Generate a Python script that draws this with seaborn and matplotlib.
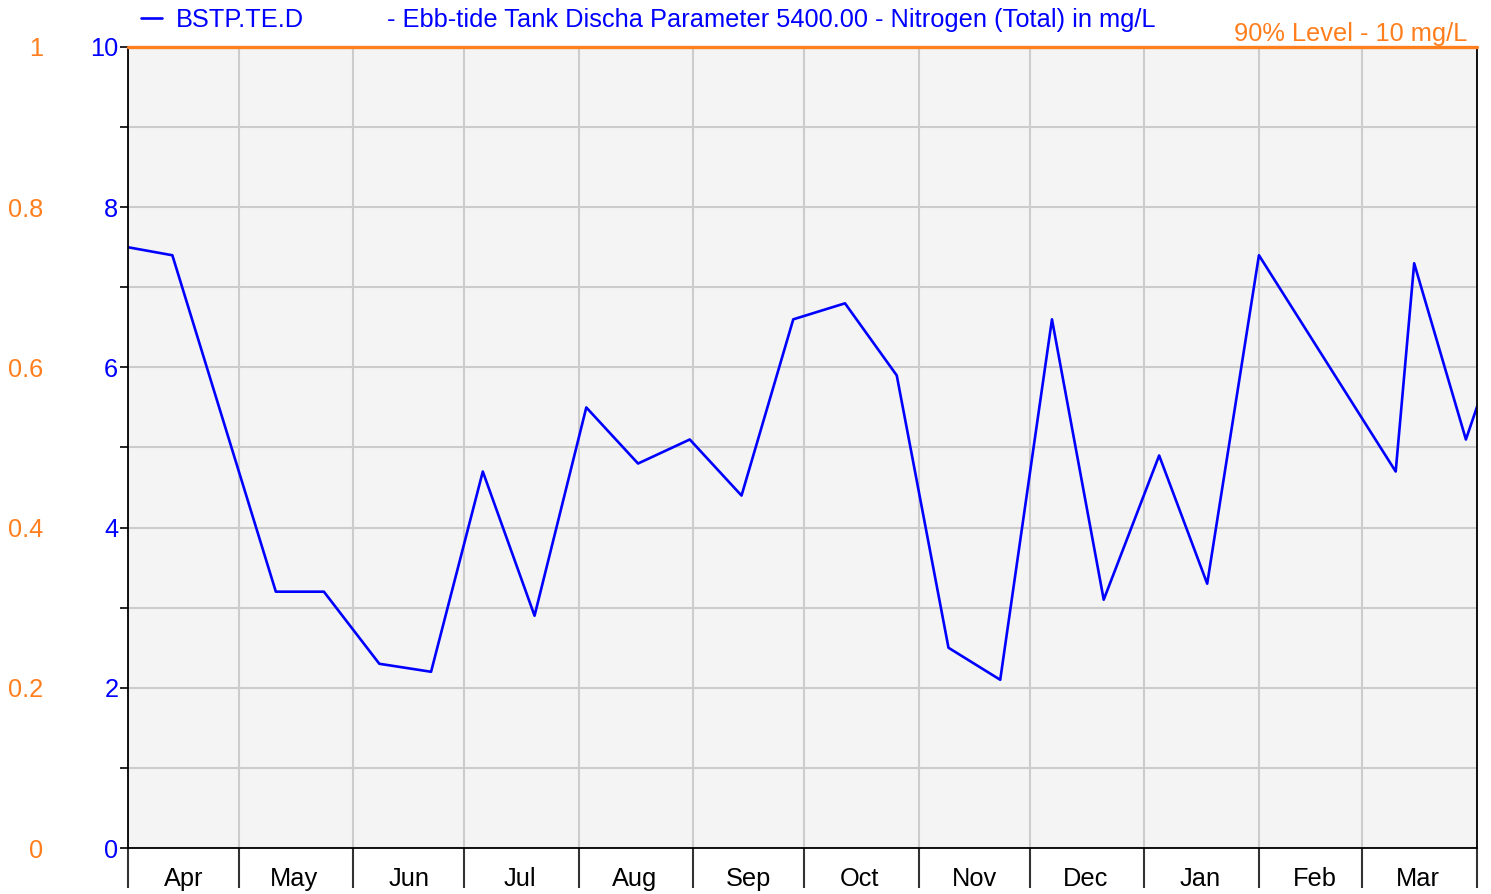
import numpy as np
import pandas as pd
import matplotlib
matplotlib.use('Agg')
import matplotlib.pyplot as plt
import matplotlib.dates as mdates
from matplotlib.ticker import FixedLocator, FuncFormatter
import seaborn as sns

# sample dates and Nitrogen (Total) values in mg/L
dates = ['2018-04-01', '2018-04-13', '2018-05-11', '2018-05-24', '2018-06-08',
         '2018-06-22', '2018-07-06', '2018-07-20', '2018-08-03', '2018-08-17',
         '2018-08-31', '2018-09-14', '2018-09-28', '2018-10-12', '2018-10-26',
         '2018-11-09', '2018-11-23', '2018-12-07', '2018-12-21', '2019-01-05',
         '2019-01-18', '2019-02-01', '2019-03-10', '2019-03-15', '2019-03-29',
         '2019-04-12']
values = [7.5, 7.4, 3.2, 3.2, 2.3, 2.2, 4.7, 2.9, 5.5, 4.8,
          5.1, 4.4, 6.6, 6.8, 5.9, 2.5, 2.1, 6.6, 3.1, 4.9,
          3.3, 7.4, 4.7, 7.3, 5.1, 7.0]
blue_ticks = [0, 2, 4, 6, 8, 10]
orange_ticks = [0, 0.2, 0.4, 0.6, 0.8, 1]
level_90 = 10
series_name = 'BSTP.TE.D'
description = '- Ebb-tide Tank Discha Parameter 5400.00 - Nitrogen (Total) in mg/L'
level_label = '90% Level - 10 mg/L'

BLUE = '#0000ff'
ORANGE = '#ff7f1e'
FS = 18.3

df = pd.DataFrame({'date': pd.to_datetime(dates), 'value': values})

sns.set_style('white')
plt.rcParams['font.family'] = ['Liberation Sans', 'DejaVu Sans']

fig = plt.figure(figsize=(14.91, 8.94), dpi=100)
ax = fig.add_axes([128 / 1491, 1 - 848 / 894, (1477 - 128) / 1491, (848 - 47) / 894])
ax.set_facecolor('#f4f4f4')

sns.lineplot(data=df, x='date', y='value', ax=ax, color=BLUE, linewidth=1.9,
             label=series_name)

ax.set_xlim(pd.Timestamp('2018-04-01'), pd.Timestamp('2019-04-01'))
ax.set_ylim(0, 10)
ax.set_xlabel('')
ax.set_ylabel('')

# y axis: labelled every 2, gridlines every 1
ax.yaxis.set_major_locator(FixedLocator(blue_ticks))
ax.yaxis.set_minor_locator(FixedLocator([1, 3, 5, 7, 9]))
ax.yaxis.set_major_formatter(FuncFormatter(lambda v, p: '%g' % v))
ax.tick_params(axis='y', which='both', direction='out', length=6, width=1.2,
               color='black', left=True, pad=1, labelsize=FS, labelcolor=BLUE)
ax.grid(True, which='both', axis='y', color='#cccccc', linewidth=1.5)

# x axis: month boundaries + labels centred on months
ax.xaxis.set_major_locator(mdates.MonthLocator())
ax.xaxis.set_major_formatter(plt.NullFormatter())
ax.xaxis.set_minor_locator(mdates.MonthLocator(bymonthday=16))
ax.xaxis.set_minor_formatter(mdates.DateFormatter('%b'))
ax.tick_params(axis='x', which='major', direction='out', length=29, width=1.5,
               color='#333333', bottom=True)
ax.tick_params(axis='x', which='minor', length=0, pad=13.5, labelsize=FS,
               labelcolor='black')
ax.grid(True, which='major', axis='x', color='#cccccc', linewidth=1.5)

for side in ['left', 'bottom', 'right']:
    ax.spines[side].set_color('black')
    ax.spines[side].set_linewidth(1.3)
ax.spines['top'].set_visible(False)

# 90% level line
ax.axhline(level_90, color=ORANGE, linewidth=2.4, clip_on=False, zorder=5)
ax.annotate(level_label, xy=(1, 1), xycoords='axes fraction', xytext=(-7, 4),
            textcoords='offset points', ha='right', va='baseline',
            color=ORANGE, fontsize=FS)

# secondary orange scale on the far left
ax2 = ax.twinx()
ax2.set_ylim(0, 1)
ax2.yaxis.set_ticks_position('left')
ax2.yaxis.set_major_locator(FixedLocator(orange_ticks))
ax2.yaxis.set_major_formatter(FuncFormatter(lambda v, p: '%g' % v))
ax2.tick_params(axis='y', length=0, pad=61, labelsize=FS, labelcolor=ORANGE)
for s in ax2.spines.values():
    s.set_visible(False)
ax2.grid(False)

# legend at the top
leg = ax.legend(loc='lower left', bbox_to_anchor=(3 / 1349, 1.006), frameon=False,
                handlelength=0.8, handletextpad=0.55, fontsize=FS, borderaxespad=0)
for t in leg.get_texts():
    t.set_color(BLUE)
fig.text(387 / 1491, 1 - 20.5 / 894, description, color=BLUE, fontsize=FS,
         ha='left', va='center')

fig.savefig('out.png', dpi=100)
